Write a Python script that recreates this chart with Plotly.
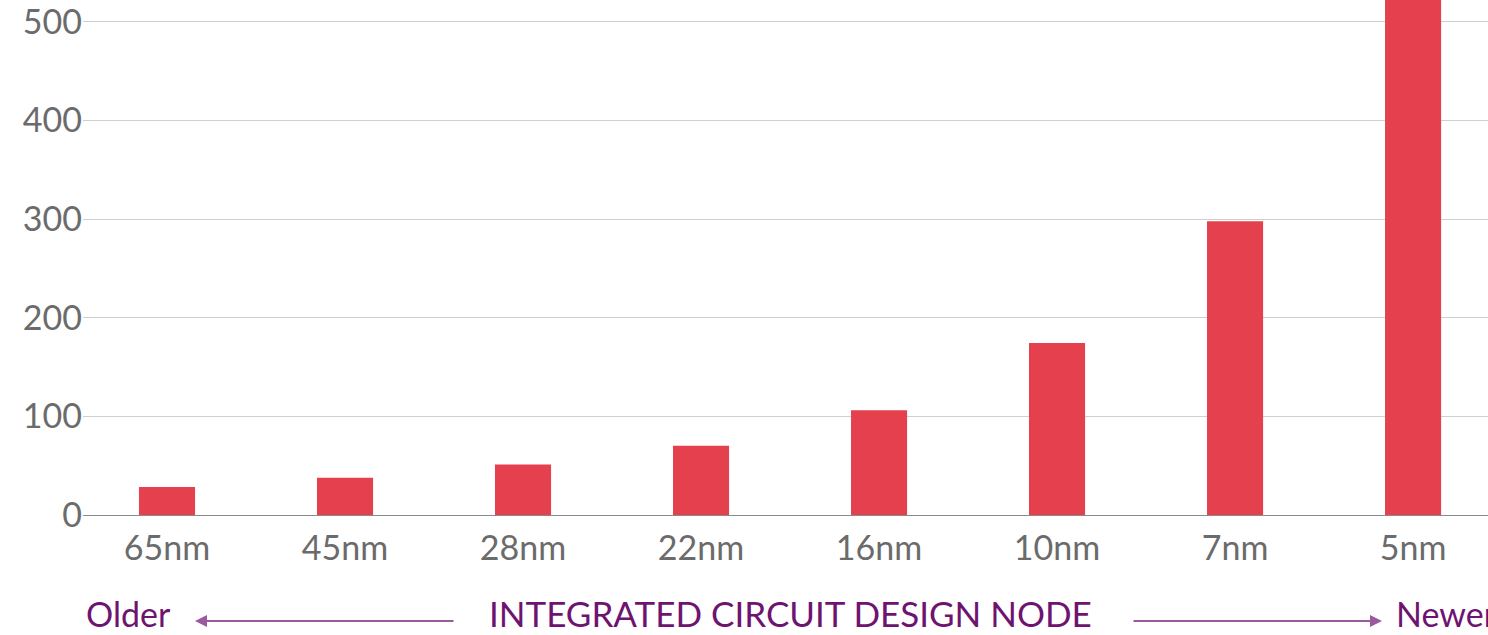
import plotly.graph_objects as go

nodes = ["65nm", "45nm", "28nm", "22nm", "16nm", "10nm", "7nm", "5nm"]
cost = [28.5, 37.7, 51.3, 70.3, 106.3, 174.4, 297.8, 542.2]
ytick_vals = [0, 100, 200, 300, 400, 500]

BAR = "#E5404D"
TICK = "#6b6b6b"
PURPLE = "#6E1470"
ARROW = "#9B5A9E"
FONT = "Lato"
FS = 34

fig = go.Figure(go.Bar(x=nodes, y=cost, marker=dict(color=BAR, line=dict(width=0)),
                       width=0.315, hoverinfo="skip"))

fig.update_layout(
    width=1488, height=635,
    margin=dict(l=83, r=0, t=0, b=120),
    paper_bgcolor="white", plot_bgcolor="white",
    showlegend=False,
    font=dict(family=FONT, size=FS, color=TICK),
    xaxis=dict(range=[-0.472, 7.421], showgrid=False, ticks="", zeroline=False,
               showline=True, linecolor="#8a8a8a", linewidth=1,
               ticklabelstandoff=3,
               tickfont=dict(size=FS, color=TICK, family=FONT)),
    yaxis=dict(range=[0, 522], tickvals=ytick_vals, showgrid=True, gridcolor="#cfcfcf",
               gridwidth=1, zeroline=False, showline=False, ticks="",
               ticklabeloverflow="allow",
               tickfont=dict(size=FS, color=TICK, family=FONT)),
    bargap=0.7,
)

def py(pix):
    return (515 - pix) / 515.0

def px(pix):
    return (pix - 83) / 1405.0

TY = 613
fig.add_annotation(x=px(84), y=py(TY), xref="paper", yref="paper", text="Older",
                   showarrow=False, xanchor="left", yanchor="middle",
                   font=dict(size=FS, color=PURPLE, family=FONT))
fig.add_annotation(x=px(790), y=py(TY), xref="paper", yref="paper",
                   text="INTEGRATED CIRCUIT DESIGN NODE",
                   showarrow=False, xanchor="center", yanchor="middle",
                   font=dict(size=35, color=PURPLE, family=FONT))
fig.add_annotation(x=px(1394), y=py(TY), xref="paper", yref="paper", text="Newer",
                   showarrow=False, xanchor="left", yanchor="middle",
                   font=dict(size=FS, color=PURPLE, family=FONT))
# arrows
fig.add_annotation(x=px(195), y=py(621), xref="paper", yref="paper", text="",
                   showarrow=True, ax=260, ay=0, arrowhead=2, arrowsize=1.2,
                   arrowwidth=2, arrowcolor=ARROW)
fig.add_annotation(x=px(1382), y=py(621), xref="paper", yref="paper", text="",
                   showarrow=True, ax=-250, ay=0, arrowhead=2, arrowsize=1.2,
                   arrowwidth=2, arrowcolor=ARROW)

fig.write_html("out.html", config={"displayModeBar": False},
               post_script="document.body.style.margin='0';")
